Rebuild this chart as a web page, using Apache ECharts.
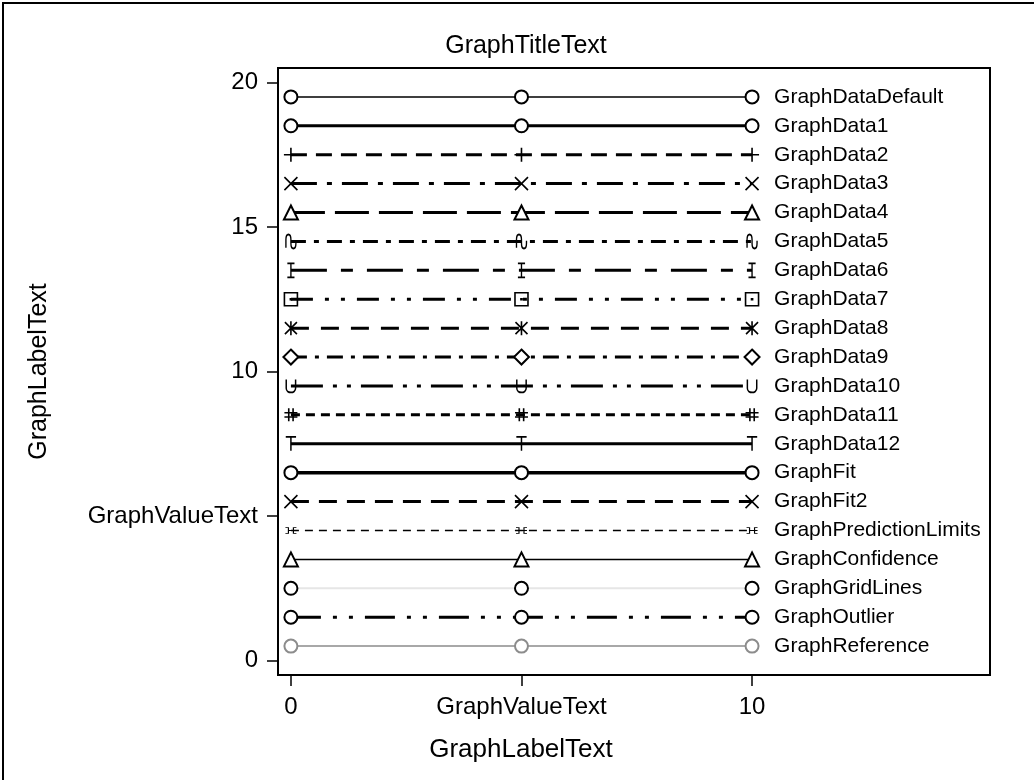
<!DOCTYPE html>
<html>
<head>
<meta charset="utf-8">
<script src="https://cdn.jsdelivr.net/npm/echarts@6/dist/echarts.min.js"></script>
<style>
html, body { margin: 0; padding: 0; background: #fff; }
#main { width: 1034px; height: 780px; }
</style>
</head>
<body>
<div id="main"></div>
<script>
const xValues = [0, 5, 10]
const seriesNames = [
    'GraphDataDefault', 'GraphData1', 'GraphData2', 'GraphData3', 'GraphData4',
    'GraphData5', 'GraphData6', 'GraphData7', 'GraphData8', 'GraphData9',
    'GraphData10', 'GraphData11', 'GraphData12', 'GraphFit', 'GraphFit2',
    'GraphPredictionLimits', 'GraphConfidence', 'GraphGridLines', 'GraphOutlier', 'GraphReference'
]
const seriesY = [19.5, 18.5, 17.5, 16.5, 15.5, 14.5, 13.5, 12.5, 11.5, 10.5,
    9.5, 8.5, 7.5, 6.5, 5.5, 4.5, 3.5, 2.5, 1.5, 0.5]
const xTicks = [0, 5, 10]
const yTicks = [0, 5, 10, 15, 20]
const tickText = { 5: 'GraphValueText' }

const FONT = 'Liberation Sans, Arial, sans-serif'

// marker shapes (stroked paths)
const PLUS = 'path://M0,6L12,6M6,0L6,12'
const XS = 'path://M0,0L12,12M0,12L12,0'
const TILDE = 'path://M0,12L0,5C0,-1 6,-1 6,5L6,8C6,14 12,14 12,8L12,6'
const IBEAM = 'path://M0,0L10,0M5,0L5,14M0,14L10,14'
const SQDOT = 'path://M0,0L12,0L12,12L0,12ZM5.5,5.5L6.5,5.5L6.5,6.5L5.5,6.5Z'
const STAR = 'path://M0,0L12,12M0,12L12,0M6,-1L6,13'
const UU = 'path://M0,0L0,8C0,13 10,13 10,8L10,0'
const HASH = 'path://M4,0L4,12M8,0L8,12M0,4L12,4M0,8L12,8'
const TEE = 'path://M0,0L12,0M6,0L6,14'
const PRED = 'path://M0,0L3,0L3,8L0,8M3,4L8,4M11,0L8,0L8,8L11,8M8,4L11,4'

const styles = [
    { sym: 'emptyCircle', size: 13, w: 1.5, dash: 'solid' },
    { sym: 'emptyCircle', size: 13, w: 3, dash: 'solid' },
    { sym: PLUS, size: 14, w: 3, dash: [16, 9] },
    { sym: XS, size: 13, w: 3, dash: [26, 10, 5, 10] },
    { sym: 'emptyTriangle', size: 14, w: 3, dash: [34, 10] },
    { sym: TILDE, size: [10, 14], w: 3, dash: [15, 8, 5, 8] },
    { sym: IBEAM, size: [10, 14], w: 3, dash: [36, 14, 12, 14] },
    { sym: SQDOT, size: 13, w: 3, dash: [22, 12, 4, 12, 4, 12] },
    { sym: STAR, size: 14, w: 3, dash: [18, 12] },
    { sym: 'emptyDiamond', size: 15, w: 3, dash: [16, 8, 4, 8] },
    { sym: UU, size: [11, 13], w: 3, dash: [32, 10, 4, 10, 4, 10] },
    { sym: HASH, size: 13, w: 3, dash: [9, 6] },
    { sym: TEE, size: [12, 14], w: 3, dash: 'solid' },
    { sym: 'emptyCircle', size: 13, w: 3.5, dash: 'solid' },
    { sym: XS, size: 13, w: 3, dash: [18, 10] },
    { sym: PRED, size: [11, 8], w: 1.5, dash: [8, 6], mw: 1 },
    { sym: 'emptyTriangle', size: 14, w: 1.5, dash: 'solid' },
    { sym: 'emptyCircle', size: 13, w: 2, dash: 'solid', lineColor: '#e6e6e6' },
    { sym: 'emptyCircle', size: 13, w: 3, dash: [30, 12, 4, 12, 4, 12], mw: 2.5 },
    { sym: 'emptyCircle', size: 13, w: 1.5, dash: 'solid', color: '#8c8c8c' }
]

const series = seriesNames.map((name, i) => {
    const st = styles[i]
    const color = st.color || '#000'
    const isEmpty = typeof st.sym === 'string' && st.sym.indexOf('empty') === 0
    return {
        name,
        type: 'line',
        data: xValues.map(x => [x, seriesY[i]]),
        symbol: st.sym,
        symbolSize: st.size,
        symbolKeepAspect: true,
        showAllSymbol: true,
        animation: false,
        silent: true,
        lineStyle: { color: st.lineColor || color, width: st.w, type: st.dash, cap: 'butt' },
        itemStyle: isEmpty
            ? { color, borderColor: color, borderWidth: st.mw || 1.8 }
            : { color: 'none', borderColor: color, borderWidth: st.mw || 1.6 },
        endLabel: {
            show: true,
            formatter: '{a}',
            distance: 22,
            color: '#000',
            fontSize: 21,
            fontFamily: FONT
        }
    }
})

const myChart = echarts.init(document.getElementById('main'))

const option = {
    backgroundColor: '#fff',
    animation: false,
    title: {
        text: 'GraphTitleText',
        left: 521,
        top: 29,
        textAlign: 'center',
        textStyle: { fontSize: 25, fontWeight: 'normal', color: '#000', fontFamily: FONT }
    },
    grid: {
        left: 278,
        top: 68,
        right: 44,
        bottom: 105,
        show: true,
        borderColor: '#000',
        borderWidth: 2
    },
    xAxis: {
        type: 'value',
        min: -0.28,
        max: 15.16,
        splitLine: { show: false },
        axisLine: { show: true, onZero: false, lineStyle: { color: '#000', width: 2 } },
        axisTick: { show: true, customValues: xTicks, length: 11, lineStyle: { color: '#000', width: 1.5 } },
        axisLabel: {
            customValues: xTicks,
            formatter: v => tickText[v] || String(v),
            color: '#000',
            fontSize: 24,
            fontFamily: FONT,
            margin: 20
        }
    },
    yAxis: {
        type: 'value',
        min: -0.5,
        max: 20.5,
        splitLine: { show: false },
        axisLine: { show: true, onZero: false, lineStyle: { color: '#000', width: 2 } },
        axisTick: { show: true, customValues: yTicks, length: 11, lineStyle: { color: '#000', width: 1.5 } },
        axisLabel: {
            customValues: yTicks,
            formatter: v => tickText[v] || String(v),
            color: '#000',
            fontSize: 24,
            fontFamily: FONT,
            margin: 20
        },
        name: 'GraphLabelText',
        nameLocation: 'middle',
        nameRotate: 90,
        nameGap: 226,
        nameTextStyle: { color: '#000', fontSize: 25, fontFamily: FONT }
    },
    graphic: [
        {
            type: 'rect',
            shape: { x: 3, y: 3, width: 1040, height: 790 },
            style: { fill: 'none', stroke: '#000', lineWidth: 2 },
            silent: true
        },
        {
            type: 'text',
            x: 521,
            y: 737,
            style: { text: 'GraphLabelText', fill: '#000', fontSize: 26, fontFamily: FONT, align: 'center' }
        }
    ],
    series
}

myChart.setOption(option)
</script>
</body>
</html>
